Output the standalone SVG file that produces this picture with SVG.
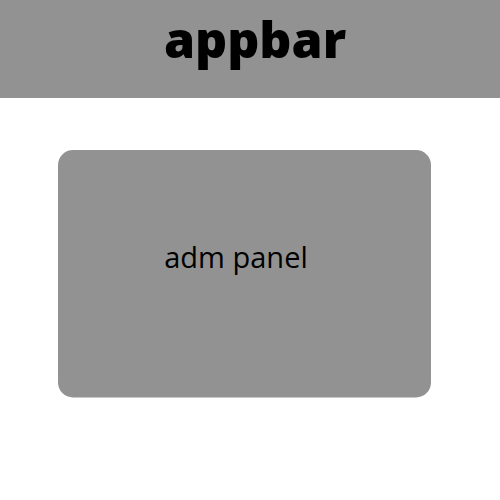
<svg xmlns="http://www.w3.org/2000/svg" width="500" height="500" viewBox="0 0 500 500">
<style>
.box{fill:#929292}
.t{font-family:"Open Sans","Noto Sans",sans-serif;fill:#000;text-anchor:middle}
</style>
<rect width="500" height="500" fill="#fff"/>
<g id="appbar">
<rect class="box" x="0" y="0" width="500" height="98"/>
<text class="t" x="255" y="58" font-size="50" font-weight="800">appbar</text>
</g>
<g id="adm-panel">
<rect class="box" x="58" y="150" width="373" height="247.5" rx="15"/>
<text class="t" x="236" y="268" font-size="29">adm panel</text>
</g>
<g id="connectors"/>
</svg>
